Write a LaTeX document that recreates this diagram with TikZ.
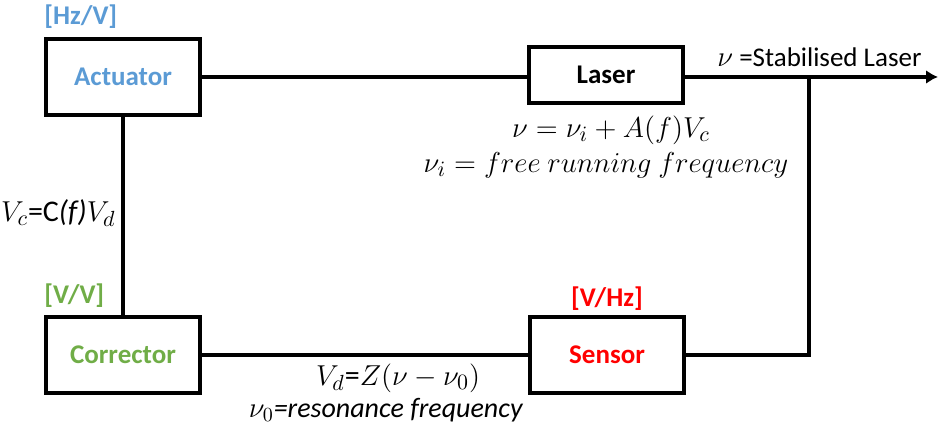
\documentclass[tikz,border=0pt]{standalone}
\usepackage{fontspec}
\setmainfont{Carlito}
\usetikzlibrary{arrows.meta,positioning}
\definecolor{actblue}{HTML}{5B9BD5}
\definecolor{corrgreen}{HTML}{70AD47}
\definecolor{senred}{HTML}{FF0000}
\tikzset{
  block/.style={draw, line width=2pt, minimum width=77pt, minimum height=38pt, inner sep=0pt, font=\fontsize{13.5}{16}\selectfont\bfseries},
  unitlbl/.style={inner sep=0pt, font=\fontsize{13.5}{16}\selectfont\bfseries},
  eqn/.style={inner sep=0pt, font=\fontsize{15}{18}\selectfont},
  wire/.style={line width=2pt}
}
\begin{document}
\begin{tikzpicture}[x=0.5pt, y=-0.5pt]
    \useasboundingbox (0,0) rectangle (940,431);

    % Blocks
    \node[block, text=actblue] (act) at (123,77) {Actuator};
    \node[block, minimum height=28pt] (laser) at (606,75) {Laser};
    \node[block, text=corrgreen] (corr) at (123,355) {Corrector};
    \node[block, text=senred] (sensor) at (607,355) {Sensor};

    % Units
    \node[unitlbl, text=actblue, anchor=west] (actunit) at (44,17) {[Hz/V]};
    \node[unitlbl, text=corrgreen, anchor=west] (corrunit) at (44,296) {[V/V]};
    \node[unitlbl, text=senred] (senunit) at (607,299) {[V/Hz]};

    % Loop
    \coordinate (split) at (809,77);
    \coordinate (out) at (938,77);
    \draw[wire] (act) -- (act -| laser.west);
    \draw[wire, -{Latex[length=6pt,width=7pt]}] (laser.east |- out) -- (out);
    \draw[wire] (split) |- (sensor);
    \draw[wire] (sensor) -- (corr);
    \draw[wire] (corr) -- (act);

    % Equations
    \node[unitlbl, font=\fontsize{13.5}{16}\selectfont, anchor=west] (outlbl) at (717,57) {$\nu$ =Stabilised Laser};
    \node[eqn] (laseq) at (611,130) {$\nu = \nu_i + A(f)V_c$};
    \node[eqn] (freeeq) at (606,165) {$\nu_i = free\ running\ frequency$};
    \node[eqn, anchor=east] (ctrleq) at (116,213) {$V_c$=C\textit{(f)}$V_d$};
    \node[eqn] (seneq) at (398,378) {$V_d$=$Z(\nu - \nu_0)$};
    \node[eqn, font=\fontsize{14}{17}\selectfont] (reseq) at (386,410) {$\nu_0$\textit{=resonance frequency}};
\end{tikzpicture}
\end{document}
